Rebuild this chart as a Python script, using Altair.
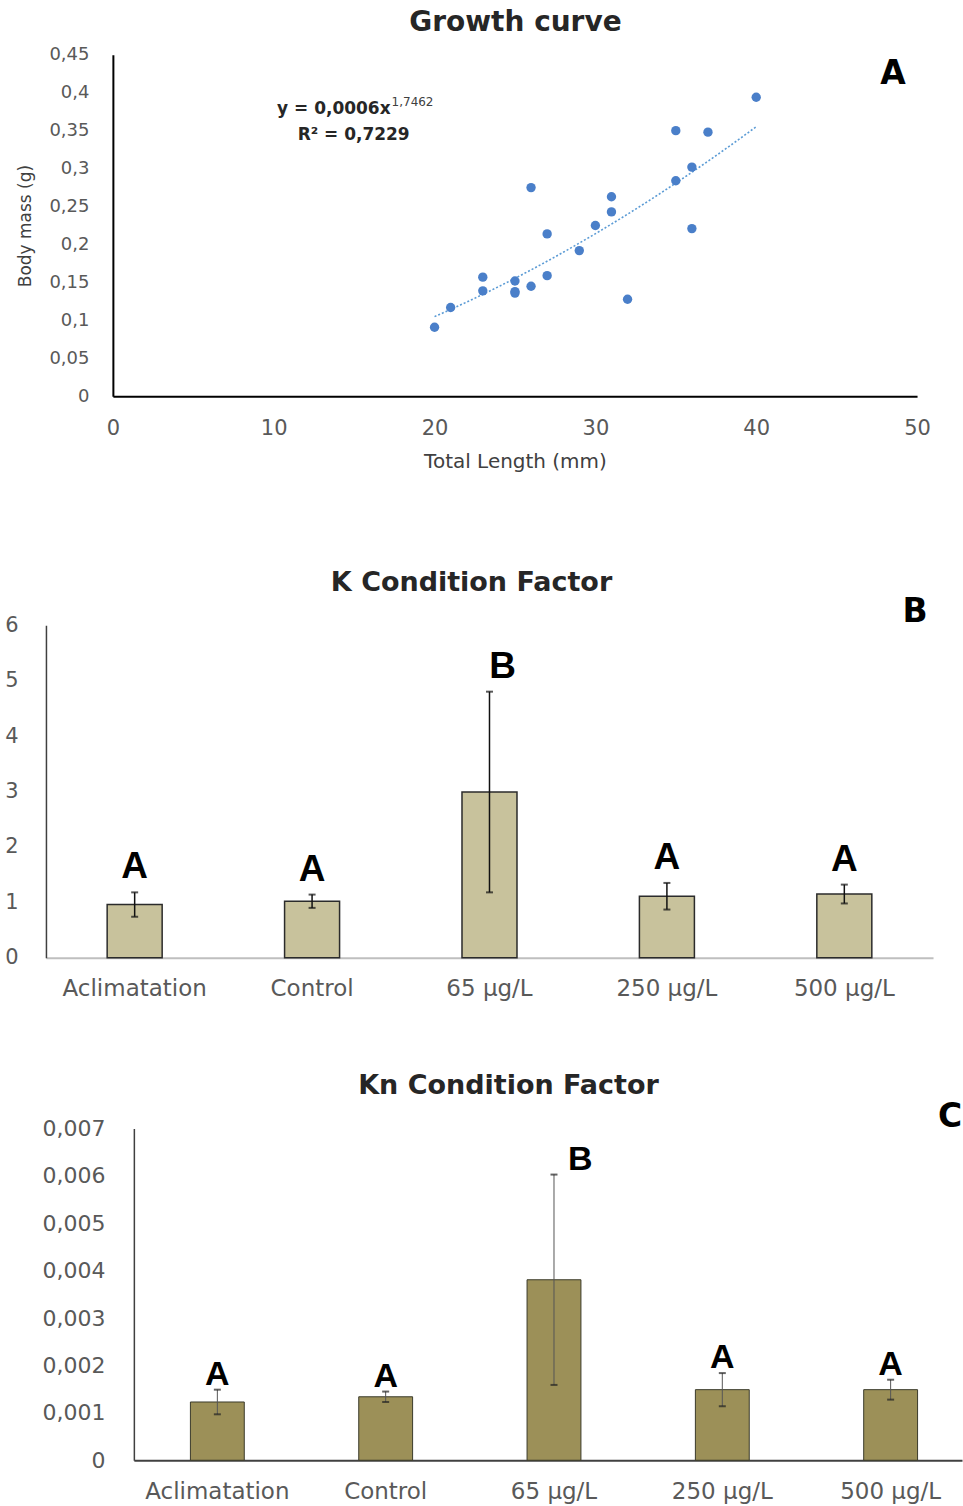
import altair as alt
import pandas as pd

FONT = "DejaVu Sans"
LETTER_FONT = "Liberation Sans"

# ---------------- Panel A : growth curve ----------------
length_mm = [20, 21, 23, 23, 25, 25, 25, 26, 26, 27, 27, 29, 30, 31, 31, 32, 35, 35, 36, 36, 37, 40]
mass_g = [0.091, 0.117, 0.157, 0.139, 0.152, 0.136, 0.138, 0.145, 0.275, 0.159, 0.214,
          0.192, 0.225, 0.263, 0.243, 0.128, 0.350, 0.284, 0.302, 0.221, 0.348, 0.394]
x_ticks_a = [0, 10, 20, 30, 40, 50]
y_ticks_a = [0, 0.05, 0.1, 0.15, 0.2, 0.25, 0.3, 0.35, 0.4, 0.45]
equation_main = ["y = 0,0006x"]
equation_exp = ["1,7462"]
equation_r2 = ["R² = 0,7229"]

# ---------------- Panels B and C ----------------
groups = ["Aclimatation", "Control", "65 µg/L", "250 µg/L", "500 µg/L"]
k_mean = [0.96, 1.02, 2.99, 1.11, 1.15]
k_sd = [0.22, 0.12, 1.81, 0.24, 0.17]
k_letters = ["A", "A", "B", "A", "A"]
y_ticks_b = [0, 1, 2, 3, 4, 5, 6]

kn_mean = [0.00123, 0.00134, 0.00381, 0.00149, 0.00149]
kn_sd = [0.00026, 0.00011, 0.00222, 0.00035, 0.00021]
kn_letters = ["A", "A", "B", "A", "A"]
y_ticks_c = [0, 0.001, 0.002, 0.003, 0.004, 0.005, 0.006, 0.007]

LABEL_GRAY = "#595959"
comma_expr2 = "replace(format(datum.value, '.2~f'), '.', ',')"
comma_expr3 = "replace(format(datum.value, '.3~f'), '.', ',')"


def one(text):
    return pd.DataFrame({"t": text})


def fixed_text(text, x, y, size, weight="bold", font=FONT, align="center", baseline="middle",
               color="#000000", opacity=1):
    return alt.Chart(one([text])).mark_text(
        font=font, fontSize=size, fontWeight=weight, color=color, align=align,
        baseline=baseline, opacity=opacity).encode(x=alt.value(x), y=alt.value(y), text="t:N")


# ---------- A ----------
dfA = pd.DataFrame({"length": length_mm, "mass": mass_g})
xA = alt.X("length:Q",
           scale=alt.Scale(domain=[0, 50], range=[67, 872], nice=False, zero=False),
           axis=alt.Axis(title="Total Length (mm)", values=x_ticks_a, grid=False, ticks=False,
                         labelFlush=False, labelOverlap=False,
                         domainColor="#000000", domainWidth=2, labelFont=FONT, labelFontSize=21,
                         labelColor=LABEL_GRAY, labelPadding=21, titleFont=FONT, titleFontSize=20,
                         titleFontWeight="normal", titleColor="#404040", titlePadding=13))
yA = alt.Y("mass:Q",
           scale=alt.Scale(domain=[0, 0.45], nice=False),
           axis=alt.Axis(title="Body mass (g)", values=y_ticks_a, grid=False, ticks=False, offset=-67,
                         labelOverlap=False, labelFlush=False,
                         domainColor="#000000", domainWidth=2, labelFont=FONT, labelFontSize=18,
                         labelColor=LABEL_GRAY, labelPadding=24, labelExpr=comma_expr2,
                         titleFont=FONT, titleFontSize=17, titleFontWeight="normal",
                         titleColor="#404040", titlePadding=14))

pts = alt.Chart(dfA).mark_circle(size=88, color="#4A7FC9", opacity=1).encode(x=xA, y=yA)
trend = (alt.Chart(dfA)
         .transform_regression("length", "mass", method="pow", extent=[20, 40])
         .mark_line(color="#5B9BD5", strokeWidth=1.6, strokeDash=[2, 2])
         .encode(x=xA, y=yA))

chartA = alt.layer(
    trend, pts,
    fixed_text(equation_main[0], 345, 54, 17, color="#262626", align="right"),
    fixed_text(equation_exp[0], 346, 47, 12, weight="normal", color="#404040", align="left"),
    fixed_text(equation_r2[0], 308, 80, 17, color="#262626"),
    fixed_text("A", 848, 19, 33),
    fixed_text("Growth curve", 470, -32, 28, color="#262626"),
    fixed_text(" ", 400, 444, 10, weight="normal", baseline="bottom", opacity=0),
).properties(width=872, height=342)


# ---------- bar panels ----------
def bar_panel(mean, sd, letters, ticks, ymax, fill, stroke, stroke_w, err_color, err_w, cap_color,
              x_scale, x_domain_color, y_offset, y_label_pad, y_label_size, label_expr, fmt,
              title, title_xy, tag, tag_xy, letter_size, letter_dy, b_dx, b_align, width, height):
    df = pd.DataFrame({"group": groups, "mean": mean, "sd": sd, "letter": letters})
    base = alt.Chart(df).transform_calculate(lo="datum.mean - datum.sd", hi="datum.mean + datum.sd")
    x = alt.X("group:N", sort=groups, scale=x_scale,
              axis=alt.Axis(title=None, labelAngle=0, grid=False, ticks=False, domainColor=x_domain_color,
                            domainWidth=2, labelFont=FONT, labelFontSize=23, labelColor=LABEL_GRAY,
                            labelPadding=20))
    axis_kw = dict(title=None, values=ticks, grid=False, ticks=False, offset=y_offset,
                   labelOverlap=False, labelFlush=False,
                   domainColor="#404040", domainWidth=1.5, labelFont=FONT, labelFontSize=y_label_size,
                   labelColor=LABEL_GRAY, labelPadding=y_label_pad)
    if label_expr:
        axis_kw["labelExpr"] = label_expr
    if fmt:
        axis_kw["format"] = fmt
    yscale = alt.Scale(domain=[0, ymax], nice=False)
    y = alt.Y("mean:Q", scale=yscale, axis=alt.Axis(**axis_kw))
    ylo = alt.Y("lo:Q", scale=yscale, axis=alt.Axis(**axis_kw))
    yhi = alt.Y("hi:Q", scale=yscale, axis=alt.Axis(**axis_kw))
    bars = base.mark_bar(color=fill, stroke=stroke, strokeWidth=stroke_w).encode(x=x, y=y)
    rule = base.mark_rule(color=err_color, strokeWidth=err_w).encode(x=x, y=ylo, y2="hi:Q")
    cap_lo = base.mark_tick(color=cap_color, size=7, thickness=2, orient="horizontal").encode(x=x, y=ylo)
    cap_hi = base.mark_tick(color=cap_color, size=7, thickness=2, orient="horizontal").encode(x=x, y=yhi)
    lettA = base.transform_filter("datum.letter == 'A'").mark_text(
        font=LETTER_FONT, fontSize=letter_size, fontWeight="bold", color="#000000", baseline="bottom",
        dy=letter_dy).encode(x=x, y=yhi, text="letter:N")
    lettB = base.transform_filter("datum.letter == 'B'").mark_text(
        font=LETTER_FONT, fontSize=letter_size, fontWeight="bold", color="#000000", baseline="bottom",
        align=b_align, dx=b_dx, dy=letter_dy).encode(x=x, y=yhi, text="letter:N")
    return alt.layer(
        bars, rule, cap_lo, cap_hi, lettA, lettB,
        fixed_text(tag, tag_xy[0], tag_xy[1], 33),
        fixed_text(title, title_xy[0], title_xy[1], 27, color="#262626"),
    ).properties(width=width, height=height)


chartB = bar_panel(k_mean, k_sd, k_letters, y_ticks_b, 6, "#C8C29C", "#2B2B2B", 1.5, "#111111", 1.5,
                   "#111111", alt.Scale(paddingInner=0.69, paddingOuter=0.345), "#BFBFBF", 0, 28, 21,
                   None, "d", "K Condition Factor", (426, -42), "B", (870, -13), 37, -6, 13, "center",
                   888, 333)

chartC = bar_panel(kn_mean, kn_sd, kn_letters, y_ticks_c, 0.007, "#9C9058", "#3A3A2A", 1, "#555555", 1,
                   "#222222", alt.Scale(range=[88, 917], paddingInner=0.68, paddingOuter=0.3, align=0.56),
                   "#404040", -88, 29, 22, comma_expr3, None, "Kn Condition Factor", (463, -43), "C",
                   (905, -12), 34, 2, 14, "left", 917, 332)

chart = (alt.vconcat(chartA, chartB, chartC, spacing=71)
         .properties(padding={"left": 4, "top": 8, "right": 0, "bottom": 2}, background="white")
         .configure_view(stroke=None))

chart.save("out.html", embed_options={"renderer": "svg", "actions": False})
